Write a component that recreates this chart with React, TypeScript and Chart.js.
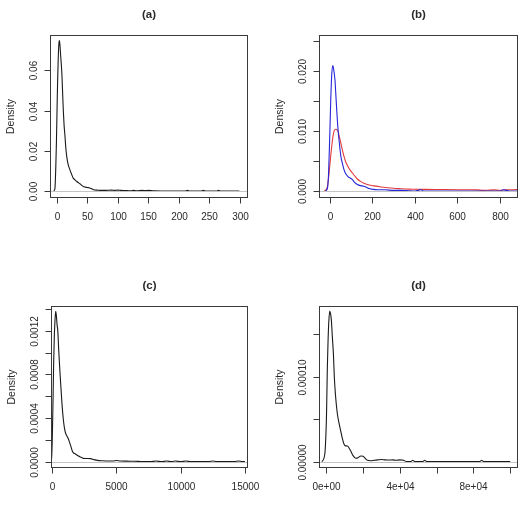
import React, { useEffect, useRef } from "react";
import { Chart, registerables } from "chart.js";

Chart.register(...registerables);

const FONT = '"Liberation Sans", Arial, sans-serif';

// (a) single density curve
const aX = [-5, -3, -1.5, -0.5, 0.5, 1.5, 2.5, 3.5, 4.3, 5.2, 6.3, 7.5, 8.5, 9.5, 10.8, 12, 13.6, 15, 16.5, 18.5, 21.8, 24.5, 27, 30, 32.6, 35, 38, 41, 43.5, 47, 50, 53, 56, 59, 62, 66, 72, 80, 90, 95, 100, 105, 112, 118, 122, 126, 130, 135, 140, 145, 150, 155, 160, 170, 210, 214, 218, 236, 240, 244, 262, 265, 268, 299];
const aY = [0, 0.001, 0.012, 0.024, 0.04, 0.055, 0.066, 0.073, 0.0748, 0.073, 0.068, 0.063, 0.058, 0.05, 0.04, 0.033, 0.027, 0.021, 0.017, 0.0135, 0.0104, 0.0082, 0.0064, 0.0055, 0.0048, 0.0042, 0.0036, 0.0028, 0.0022, 0.0019, 0.0017, 0.0016, 0.0012, 0.0008, 0.0005, 0.0004, 0.0003, 0.0003, 0.0004, 0.0003, 0.0004, 0.0003, 0.0002, 0.0001, 0.00005, 0.0003, 0.00005, 0.0002, 0.0003, 0.0002, 0.0003, 0.0002, 0.00003, 0, 0, 0.0003, 0, 0, 0.0003, 0, 0, 0.0003, 0, 0];
const aXTicks = [0, 50, 100, 150, 200, 250, 300];
const aXLabels = ["0", "50", "100", "150", "200", "250", "300"];
const aYTicks = [0, 0.02, 0.04, 0.06];
const aYLabels = ["0.00", "0.02", "0.04", "0.06"];

// (b) two density curves
const bBlueX = [-20, -10, -5, 0, 5, 10, 15, 20, 25, 30, 35, 40, 45, 50, 55, 60, 67, 75, 86, 95, 107, 118, 130, 145, 160, 175, 185, 200, 224, 260, 300, 340, 370, 400, 430, 440, 800, 815, 830, 845, 880];
const bBlueY = [0, 0.0005, 0.003, 0.0085, 0.015, 0.0195, 0.0209, 0.02, 0.0185, 0.0155, 0.0125, 0.01, 0.0082, 0.0065, 0.0053, 0.0046, 0.0036, 0.0029, 0.0024, 0.0022, 0.0019, 0.0014, 0.0011, 0.0009, 0.0008, 0.0006, 0.0004, 0.0003, 0.0002, 0.0002, 0.0001, 0.0001, 0.00005, 0, 0.0002, 0, 0, 0.0002, 0.0001, 0, 0];
const bRedX = [-25, -12, -5, 0, 5, 10, 17, 22, 28, 35, 40, 46, 52, 60, 67, 76, 86, 96, 107, 118, 130, 145, 161, 185, 209, 240, 271, 300, 334, 370, 396, 450, 500, 540, 600, 650, 694, 720, 740, 770, 800, 830, 860, 885];
const bRedY = [0, 0.0005, 0.0022, 0.004, 0.0058, 0.0075, 0.0094, 0.0101, 0.0103, 0.0102, 0.0099, 0.009, 0.0081, 0.0068, 0.0058, 0.0048, 0.0041, 0.0035, 0.003, 0.0025, 0.002, 0.0016, 0.0013, 0.001, 0.00085, 0.00068, 0.00055, 0.00045, 0.00038, 0.00032, 0.0003, 0.00027, 0.00025, 0.00024, 0.00022, 0.0002, 0.00018, 0.0001, 0.00012, 0.00018, 0.00012, 0.00022, 0.0002, 0.00028];
const bXTicks = [0, 200, 400, 600, 800];
const bXLabels = ["0", "200", "400", "600", "800"];
const bYTicks = [0, 0.005, 0.01, 0.015, 0.02, 0.025];
const bYLabels = ["0.000", "", "0.010", "", "0.020", ""];

// (c) single density curve
const cX = [-150, -60, 0, 50, 106, 160, 215, 269, 320, 380, 432, 500, 595, 680, 758, 850, 946, 1040, 1142, 1250, 1354, 1450, 1550, 1631, 1800, 2039, 2250, 2447, 2700, 2990, 3250, 3532, 3900, 4347, 4700, 5000, 5300, 5800, 6223, 6700, 7000, 7600, 8100, 8500, 8900, 9300, 9600, 10000, 10400, 10800, 12200, 12500, 12800, 14200, 14500, 14800, 15000];
const cY = [0, 0.00002, 0.0002, 0.0005, 0.00089, 0.00115, 0.0013, 0.00138, 0.00134, 0.00125, 0.0012, 0.00103, 0.00083, 0.00067, 0.00053, 0.0004, 0.00031, 0.00026, 0.000235, 0.00021, 0.000174, 0.00014, 0.0001, 0.000083, 0.00007, 0.000051, 0.00004, 0.00003, 0.000028, 0.000027, 0.000018, 0.000011, 0.000008, 0.000006, 0.000006, 0.00001, 0.000005, 0.000004, 0.000003, 0.000002, 0.000001, 0, 0.000005, 0, 0.000005, 0, 0.000005, 0, 0.000005, 0, 0, 0.000005, 0, 0, 0.000005, 0, 0];
const cXTicks = [0, 5000, 10000, 15000];
const cXLabels = ["0", "5000", "10000", "15000"];
const cYTicks = [0, 0.0002, 0.0004, 0.0006, 0.0008, 0.001, 0.0012, 0.0014];
const cYLabels = ["0.0000", "", "0.0004", "", "0.0008", "", "0.0012", ""];

// (d) single density curve
const dX = [-2500, -900, 0, 163, 500, 889, 1300, 1816, 2300, 2725, 3200, 3815, 4300, 4904, 5500, 5994, 6900, 7800, 8700, 9600, 10500, 11440, 12300, 13240, 14500, 15970, 17200, 18700, 20000, 21000, 22340, 24000, 26000, 28000, 30000, 32000, 34000, 36000, 38000, 40000, 42000, 43500, 46000, 47000, 48000, 52500, 53500, 54500, 83500, 84500, 85500, 100000];
const dY = [0, 0.0000086, 0.00005, 0.0000676, 0.00011, 0.000142, 0.000165, 0.0001776, 0.000174, 0.000166, 0.000148, 0.0001265, 0.0001, 0.0000794, 0.000065, 0.0000558, 0.000045, 0.000036, 0.000027, 0.0000204, 0.0000185, 0.0000184, 0.000016, 0.0000125, 0.000007, 0.0000039, 0.0000045, 0.0000066, 0.0000062, 0.000004, 0.0000015, 0.000001, 0.0000015, 0.000002, 0.0000025, 0.000002, 0.0000018, 0.000002, 0.0000015, 0.000002, 0.0000015, 0, 0, 0.0000015, 0, 0, 0.0000015, 0, 0, 0.0000015, 0, 0];
const dXTicks = [0, 20000, 40000, 60000, 80000, 100000];
const dXLabels = ["0e+00", "", "4e+04", "", "8e+04", ""];
const dYTicks = [0, 0.00005, 0.0001, 0.00015];
const dYLabels = ["0.00000", "", "0.00010", ""];

const pts = (xs: number[], ys: number[]) => xs.map((x, i) => ({ x, y: ys[i] }));

type PanelSpec = {
  title: string;
  left: number;
  top: number;
  width: number;
  height: number;
  pad: { left: number; top: number; right: number; bottom: number };
  xRange: [number, number];
  yRange: [number, number];
  series: { xs: number[]; ys: number[]; color: string }[];
  xTicks: number[];
  xLabels: string[];
  yTicks: number[];
  yLabels: string[];
};

const AXIS = "#3a3a3a";
const TEXT = "#2a2a2a";

// Base-graphics style frame: box, outward ticks, rotated y labels, title, grey zero line on top
const framePlugin = {
  id: "densityFrame",
  afterDatasetsDraw(chart: any) {
    const { ctx, chartArea } = chart;
    const y0 = Math.round(chart.scales.y.getPixelForValue(0)) + 0.5;
    ctx.save();
    ctx.strokeStyle = "#c4c4c4";
    ctx.lineWidth = 1;
    ctx.beginPath();
    ctx.moveTo(chartArea.left, y0);
    ctx.lineTo(chartArea.right, y0);
    ctx.stroke();
    ctx.restore();
  },
  afterDraw(chart: any, _args: any, opts: any) {
    const { ctx, chartArea } = chart;
    const xs = chart.scales.x;
    const ys = chart.scales.y;
    const L = Math.round(chartArea.left) + 0.5;
    const R = Math.round(chartArea.right) + 0.5;
    const T = Math.round(chartArea.top) + 0.5;
    const B = Math.round(chartArea.bottom) + 0.5;
    ctx.save();
    ctx.strokeStyle = AXIS;
    ctx.lineWidth = 1;
    ctx.strokeRect(L, T, R - L, B - T);

    ctx.fillStyle = TEXT;
    ctx.font = `10px ${FONT}`;
    ctx.textAlign = "center";
    ctx.textBaseline = "middle";
    // x axis
    opts.xTicks.forEach((t: number, i: number) => {
      const px = Math.round(xs.getPixelForValue(t)) + 0.5;
      ctx.beginPath();
      ctx.moveTo(px, B);
      ctx.lineTo(px, B + 6);
      ctx.stroke();
      if (opts.xLabels[i]) ctx.fillText(opts.xLabels[i], px, B + 20);
    });
    // y axis
    opts.yTicks.forEach((t: number, i: number) => {
      const py = Math.round(ys.getPixelForValue(t)) + 0.5;
      ctx.beginPath();
      ctx.moveTo(L - 6, py);
      ctx.lineTo(L, py);
      ctx.stroke();
      if (opts.yLabels[i]) {
        ctx.save();
        ctx.translate(L - 16, py);
        ctx.rotate(-Math.PI / 2);
        ctx.fillText(opts.yLabels[i], 0, 0);
        ctx.restore();
      }
    });
    ctx.save();
    ctx.font = `10.5px ${FONT}`;
    ctx.translate(L - 39, (T + B) / 2);
    ctx.rotate(-Math.PI / 2);
    ctx.fillText("Density", 0, 0);
    ctx.restore();

    ctx.font = `bold 11.5px ${FONT}`;
    ctx.fillText(opts.title, (L + R) / 2, T - 21);
    ctx.restore();
  },
};

const panels: PanelSpec[] = [
  {
    title: "(a)",
    left: 0, top: 0, width: 261, height: 254,
    pad: { left: 50, top: 35, right: 14, bottom: 57 },
    xRange: [-11, 311.5],
    yRange: [-0.003, 0.0776],
    series: [{ xs: aX, ys: aY, color: "#1a1a1a" }],
    xTicks: aXTicks, xLabels: aXLabels, yTicks: aYTicks, yLabels: aYLabels,
  },
  {
    title: "(b)",
    left: 261, top: 0, width: 261, height: 254,
    pad: { left: 58, top: 35, right: 5, bottom: 57 },
    xRange: [-50, 880],
    yRange: [-0.001, 0.026],
    series: [
      { xs: bBlueX, ys: bBlueY, color: "#2626d9" },
      { xs: bRedX, ys: bRedY, color: "#e23a3a" },
    ],
    xTicks: bXTicks, xLabels: bXLabels, yTicks: bYTicks, yLabels: bYLabels,
  },
  {
    title: "(c)",
    left: 0, top: 254, width: 261, height: 255,
    pad: { left: 51, top: 52, right: 14, bottom: 42 },
    xRange: [-98, 15160],
    yRange: [-0.0000495, 0.001428],
    series: [{ xs: cX, ys: cY, color: "#1a1a1a" }],
    xTicks: cXTicks, xLabels: cXLabels, yTicks: cYTicks, yLabels: cYLabels,
  },
  {
    title: "(d)",
    left: 261, top: 254, width: 261, height: 255,
    pad: { left: 58, top: 52, right: 5, bottom: 42 },
    xRange: [-4033, 103700],
    yRange: [-0.0000064, 0.0001835],
    series: [{ xs: dX, ys: dY, color: "#1a1a1a" }],
    xTicks: dXTicks, xLabels: dXLabels, yTicks: dYTicks, yLabels: dYLabels,
  },
];

function Panel({ spec }: { spec: PanelSpec }) {
  const ref = useRef<HTMLCanvasElement>(null);
  useEffect(() => {
    if (!ref.current) return;
    const chart = new Chart(ref.current, {
      type: "line",
      data: {
        datasets: spec.series.map((s) => ({
          data: pts(s.xs, s.ys),
          borderColor: s.color,
          borderWidth: 1.1,
          pointRadius: 0,
          cubicInterpolationMode: "monotone" as const,
          fill: false,
        })),
      },
      options: {
        responsive: false,
        animation: false,
        devicePixelRatio: 1,
        layout: { padding: spec.pad },
        scales: {
          x: { type: "linear", min: spec.xRange[0], max: spec.xRange[1], display: false },
          y: { type: "linear", min: spec.yRange[0], max: spec.yRange[1], display: false },
        },
        plugins: {
          legend: { display: false },
          tooltip: { enabled: false },
          densityFrame: {
            title: spec.title,
            xTicks: spec.xTicks,
            xLabels: spec.xLabels,
            yTicks: spec.yTicks,
            yLabels: spec.yLabels,
          },
        } as any,
      },
      plugins: [framePlugin],
    });
    return () => chart.destroy();
  }, [spec]);
  return (
    <canvas
      ref={ref}
      width={spec.width}
      height={spec.height}
      style={{ position: "absolute", left: spec.left, top: spec.top, width: spec.width, height: spec.height }}
    />
  );
}

export default function App() {
  return (
    <div style={{ position: "fixed", left: 0, top: 0, width: 522, height: 509, background: "#fff", overflow: "hidden" }}>
      {panels.map((p) => (
        <Panel key={p.title} spec={p} />
      ))}
    </div>
  );
}
